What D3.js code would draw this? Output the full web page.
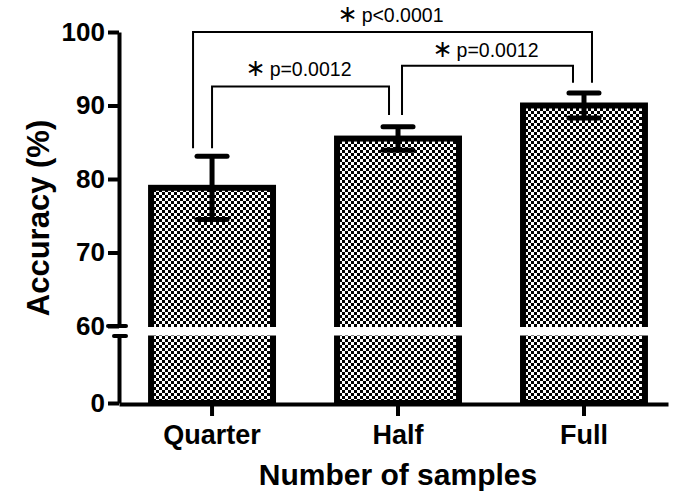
<!DOCTYPE html>
<html>
<head>
<meta charset="utf-8">
<script src="https://cdn.jsdelivr.net/npm/d3@7/dist/d3.min.js"></script>
<style>
    body { margin: 0; background: #fff; }
    svg { display: block; }
</style>
</head>
<body>
<div id="container"></div>
<script>
// Values
var categories = ["Quarter", "Half", "Full"];
var means = [78.8, 85.5, 90.0];
var errors = [4.3, 1.6, 1.7]; // +/- around the mean
var yTicksUpper = [60, 70, 80, 90, 100];
var yTicksLower = [0];

// significance brackets: from bar, to bar, level of the bar line, where each leg stops
var sigFrom = [0, 1, 0];
var sigTo = [1, 2, 2];
var sigLevel = [92.6, 95.4, 100];
var sigLegFrom = [84.2, 88.7, 84.2];
var sigLegTo = [88.7, 93.1, 93.1];
var sigText = ["p=0.0012", "p=0.0012", "p<0.0001"];

var width = 691, height = 500;
var font = "'Liberation Sans', Arial, sans-serif";

var svg = d3.select("#container")
    .append("svg")
        .attr("width", width)
        .attr("height", height);

// checkered fill of the bars
var pat = svg.append("defs")
    .append("pattern")
        .attr("id", "checker")
        .attr("width", 6)
        .attr("height", 6)
        .attr("patternUnits", "userSpaceOnUse");
pat.append("rect").attr("width", 6).attr("height", 6).attr("fill", "#fff");
pat.append("rect").attr("width", 3).attr("height", 3).attr("fill", "#000");
pat.append("rect").attr("x", 3).attr("y", 3).attr("width", 3).attr("height", 3).attr("fill", "#000");

// broken y axis: two linear pieces
var yUp = d3.scaleLinear().domain([60, 100]).range([326, 32]);
var yLow = d3.scaleLinear().domain([0, 60]).range([403, 336]);
function yPos(v) { return v >= 60 ? yUp(v) : yLow(v); }

var x = d3.scaleBand()
    .domain(categories)
    .range([119, 668])
    .paddingInner(0.312)
    .paddingOuter(0.132)
    .align(0.592);

var bars = categories.map(function(c, i) {
    return {name: c, mean: means[i], err: errors[i]};
});

// Bars
svg.selectAll(".bar")
    .data(bars)
    .enter()
    .append("rect")
        .attr("class", "bar")
        .attr("x", function(d) { return x(d.name) + 3; })
        .attr("y", function(d) { return yPos(d.mean); })
        .attr("width", x.bandwidth() - 6)
        .attr("height", function(d) { return yLow(0) - yPos(d.mean); })
        .attr("fill", "url(#checker)")
        .attr("stroke", "#000")
        .attr("stroke-width", 6);

// white band where the axis is broken
svg.append("rect")
    .attr("x", 122)
    .attr("y", yUp(60) + 1)
    .attr("width", 548)
    .attr("height", yLow(60) - yUp(60) - 1.5)
    .attr("fill", "#fff");

// Error bars
var eb = svg.selectAll(".err")
    .data(bars)
    .enter()
    .append("g")
        .attr("class", "err")
        .attr("stroke", "#000")
        .attr("stroke-width", 5)
        .attr("stroke-linecap", "round");
eb.append("line")
    .attr("x1", function(d) { return x(d.name) + x.bandwidth() / 2; })
    .attr("x2", function(d) { return x(d.name) + x.bandwidth() / 2; })
    .attr("y1", function(d) { return yPos(d.mean + d.err); })
    .attr("y2", function(d) { return yPos(d.mean - d.err); })
    .attr("stroke-linecap", "butt");
eb.selectAll(".cap")
    .data(function(d) { return [d.mean + d.err, d.mean - d.err].map(function(v) { return {name: d.name, v: v}; }); })
    .enter()
    .append("line")
        .attr("class", "cap")
        .attr("x1", function(d) { return x(d.name) + x.bandwidth() / 2 - 15; })
        .attr("x2", function(d) { return x(d.name) + x.bandwidth() / 2 + 15; })
        .attr("y1", function(d) { return yPos(d.v); })
        .attr("y2", function(d) { return yPos(d.v); });

// Axes styling
function styleAxis(size) {
    return function(g) {
        g.select(".domain").attr("stroke-width", 4);
        g.selectAll(".tick line").attr("stroke-width", 4);
        g.selectAll(".tick text")
            .attr("font-family", font)
            .attr("font-weight", "bold")
            .attr("font-size", size)
            .attr("fill", "#000");
    };
}
// Y axis, upper and lower piece
svg.append("g")
    .attr("transform", "translate(119,0)")
    .call(d3.axisLeft(yUp).tickValues(yTicksUpper).tickSize(11).tickSizeOuter(0).tickPadding(3))
    .call(styleAxis("26px"));
svg.append("g")
    .attr("transform", "translate(119,0)")
    .call(d3.axisLeft(yLow).tickValues(yTicksLower).tickSize(11).tickSizeOuter(0).tickPadding(3))
    .call(styleAxis("26px"));

// break marks
svg.append("line")
    .attr("x1", 108).attr("x2", 126)
    .attr("y1", yUp(60)).attr("y2", yUp(60))
    .attr("stroke", "#000").attr("stroke-width", 4).attr("stroke-linecap", "round");
svg.append("line")
    .attr("x1", 114).attr("x2", 126)
    .attr("y1", yLow(60)).attr("y2", yLow(60))
    .attr("stroke", "#000").attr("stroke-width", 4).attr("stroke-linecap", "round");

// X axis
svg.append("g")
    .attr("transform", "translate(0," + (yLow(0) + 1) + ")")
    .call(d3.axisBottom(x).tickSize(12).tickSizeOuter(0).tickPadding(9))
    .call(styleAxis("27px"));

// Significance brackets
var legOffsetL = [0, 4, -19];
var legOffsetR = [-9, -11, 8];
var labelDrop = [10, 9, 10];
var sig = sigText.map(function(s, i) {
    return {
        x1: x(categories[sigFrom[i]]) + x.bandwidth() / 2 + legOffsetL[i],
        x2: x(categories[sigTo[i]]) + x.bandwidth() / 2 + legOffsetR[i],
        level: sigLevel[i], a: sigLegFrom[i], b: sigLegTo[i],
        label: s, drop: labelDrop[i]
    };
});
svg.selectAll(".sig")
    .data(sig)
    .enter()
    .append("path")
        .attr("class", "sig")
        .attr("d", function(d) {
            return "M" + d.x1 + "," + yPos(d.a) + "V" + yPos(d.level) + "H" + d.x2 + "V" + yPos(d.b);
        })
        .attr("fill", "none")
        .attr("stroke", "#000")
        .attr("stroke-width", 2);
var lab = svg.selectAll(".siglabel")
    .data(sig)
    .enter()
    .append("text")
        .attr("class", "siglabel")
        .attr("x", function(d) { return (d.x1 + d.x2) / 2 - 2; })
        .attr("y", function(d) { return yPos(d.level) - d.drop; })
        .attr("text-anchor", "middle")
        .attr("font-family", font)
        .attr("font-size", "19.5px")
        .attr("fill", "#000");
lab.append("tspan")
    .attr("font-family", "'DejaVu Sans', sans-serif")
    .attr("font-size", "24px")
    .text("\u2217");
lab.append("tspan")
    .attr("dx", 4)
    .text(function(d) { return d.label; });

// Axis titles
svg.append("text")
    .attr("x", 398)
    .attr("y", 485)
    .attr("text-anchor", "middle")
    .attr("font-family", font)
    .attr("font-weight", "bold")
    .attr("font-size", "30px")
    .text("Number of samples");
svg.append("text")
    .attr("transform", "translate(49,218) rotate(-90)")
    .attr("text-anchor", "middle")
    .attr("font-family", font)
    .attr("font-weight", "bold")
    .attr("font-size", "31px")
    .text("Accuracy (%)");
</script>
</body>
</html>
